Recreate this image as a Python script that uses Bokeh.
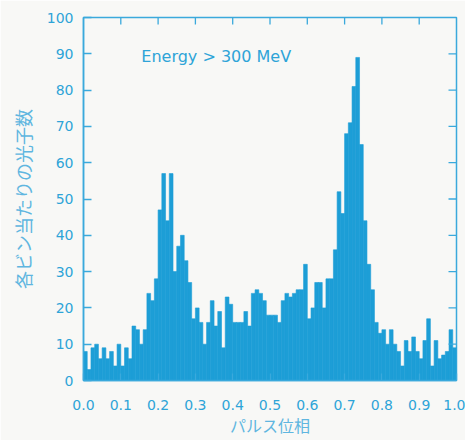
import numpy as np
from bokeh.plotting import figure
from bokeh.models import Range1d, FixedTicker, PrintfTickFormatter
from bokeh.core.properties import value
from bokeh.embed import file_html
from bokeh.resources import INLINE

# photon counts per phase bin (100 bins from 0.0 to 1.0)
counts = [8, 3, 9, 10, 6, 9, 6, 8, 4, 10,
          4, 9, 6, 15, 14, 10, 14, 24, 22, 28,
          47, 57, 44, 57, 30, 37, 40, 33, 27, 17,
          20, 16, 10, 16, 22, 15, 19, 9, 23, 21,
          16, 16, 16, 19, 15, 24, 25, 24, 22, 18,
          18, 18, 16, 22, 24, 23, 24, 25, 25, 32,
          17, 20, 27, 27, 20, 28, 28, 36, 52, 46,
          68, 71, 81, 89, 65, 44, 32, 25, 16, 13,
          14, 10, 14, 10, 8, 4, 11, 8, 12, 8,
          6, 11, 17, 4, 11, 6, 7, 8, 14, 9]
n_bins = len(counts)
bin_left = [i / n_bins for i in range(n_bins)]
bin_right = [(i + 1) / n_bins for i in range(n_bins)]

x_ticks = [i / 10 for i in range(11)]
y_ticks = list(range(0, 101, 10))
annotation = "Energy > 300 MeV"
x_label = "パルス位相"
y_label = "各ビン当たりの光子数"

bar_color = "#1d9ed6"
axis_color = "#3aa9dc"
text_color = "#2ea4d8"
label_color = "#5fb6e0"
bg = "#f8f8f6"

x_min, x_max = 0.0, 1.0
y_min, y_max = 0, 100

p = figure(width=465, height=440, output_backend="svg", toolbar_location=None,
           x_range=Range1d(x_min, x_max), y_range=Range1d(y_min, y_max),
           min_border_left=83, min_border_right=9, min_border_top=17, min_border_bottom=60)
p.background_fill_color = bg
p.border_fill_color = bg
p.outline_line_color = axis_color
p.outline_line_width = 1.5
p.outline_line_alpha = 1.0
p.grid.grid_line_color = None

p.quad(left=bin_left, right=bin_right, bottom=0, top=counts,
       fill_color=bar_color, line_color=bar_color, line_width=0.6)

p.text(x=[0.155], y=[89.2], text=[annotation], text_color=text_color,
       text_font=value("DejaVu Sans"), text_font_size="16px",
       text_align="left", text_baseline="middle")

# inward ticks on the top and right edges of the frame
p.ray(x=x_ticks[1:-1], y=[y_max] * (len(x_ticks) - 2), length=7, length_units="screen",
      angle=-np.pi / 2, line_color=axis_color, line_width=1.3)
p.ray(x=[x_max] * (len(y_ticks) - 2), y=y_ticks[1:-1], length=8, length_units="screen",
      angle=np.pi, line_color=axis_color, line_width=1.3)

for ax in (p.xaxis[0], p.yaxis[0]):
    ax.axis_line_color = axis_color
    ax.axis_line_width = 1.5
    ax.major_tick_line_color = axis_color
    ax.major_tick_line_width = 1.3
    ax.major_tick_in = 7
    ax.major_tick_out = 0
    ax.minor_tick_line_color = None
    ax.major_label_text_color = text_color
    ax.major_label_text_font = "DejaVu Sans"
    ax.major_label_text_font_size = "14px"
    ax.axis_label_text_color = label_color
    ax.axis_label_text_font = "Noto Sans CJK JP"
    ax.axis_label_text_font_style = "normal"

p.xaxis.ticker = FixedTicker(ticks=x_ticks)
p.xaxis.formatter = PrintfTickFormatter(format="%.1f")
p.yaxis.ticker = FixedTicker(ticks=y_ticks)
p.xaxis.major_label_standoff = 19
p.yaxis.major_label_standoff = 10
p.xaxis.axis_label = x_label
p.yaxis.axis_label = y_label
p.xaxis.axis_label_text_font_size = "16px"
p.yaxis.axis_label_text_font_size = "18px"
p.xaxis.axis_label_standoff = 0
p.yaxis.axis_label_standoff = 8
p.yaxis.major_tick_in = 8

open("out.html", "w").write(file_html(p, INLINE))
